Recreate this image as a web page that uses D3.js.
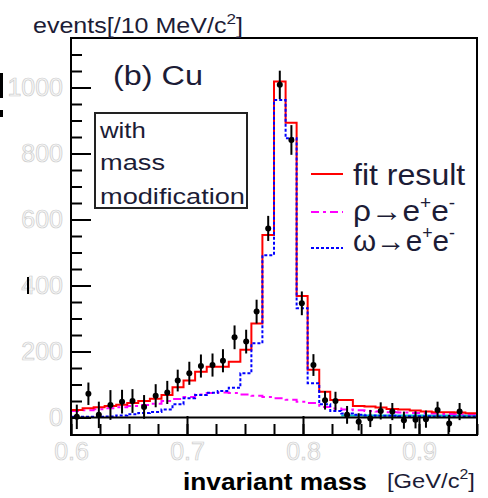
<!DOCTYPE html>
<html>
<head>
<meta charset="utf-8">
<script src="https://cdn.jsdelivr.net/npm/d3@7"></script>
<style>
  body { margin: 0; background: #fff; }
  svg { display: block; }
  text { font-family: "Liberation Sans", Arial, Helvetica, sans-serif; }
</style>
</head>
<body>
<svg id="chart" width="488" height="498"></svg>
<script>
// bin centres [GeV/c2], 36 bins over 0.6 - 0.95
var massBins = [0.605, 0.615, 0.624, 0.634, 0.644, 0.653, 0.663, 0.673, 0.683, 0.692,
  0.702, 0.712, 0.722, 0.731, 0.741, 0.751, 0.760, 0.770, 0.780, 0.790,
  0.799, 0.809, 0.819, 0.828, 0.838, 0.848, 0.858, 0.867, 0.877, 0.887,
  0.897, 0.906, 0.916, 0.926, 0.935, 0.945];

// measured points (null = no point drawn)
var dataCounts = [2, 72, 8, 38, 48, 50, 32, 66, 76, 112,
  134, 156, 159, 172, 243, 230, 321, 573, 1008, 841,
  346, 159, 52, 50, 8, -13, -3, 20, 18, -8,
  -7, -5, 23, -18, 18, null];
var dataErrors = [37, 34, 40, 45, 36, 36, 36, 35, 35, 33,
  35, 35, 35, 35, 36, 36, 36, 38, 43, 45,
  36, 33, 28, 28, 27, 26, 26, 26, 26, 26,
  26, 26, 25, 26, 26, 0];

// fit components
var fitTotal = [23, 28, 31, 35, 39, 44, 50, 57, 68, 92,
  112, 139, 154, 154, 169, 205, 285, 553, 1018, 893,
  368, 145, 78, 53, 53, 35, 33, 30, 26, 24,
  21, 18, 16, 16, 15, 13];
var rhoPart = [20, 22, 25, 28, 31, 35, 38, 42, 50, 56,
  62, 70, 74, 76, 74, 70, 66, 62, 58, 54,
  48, 44, 32, 27, 24, 22, 20, 18, 16, 15,
  14, 13, 12, 11, 10, 10];
var omegaPart = [2, 2, 2, 3, 6, 10, 14, 17, 24, 40,
  58, 68, 75, 80, 90, 134, 225, 492, 962, 846,
  331, 104, 40, 20, 12, 8, 6, 5, 5, 4,
  4, 4, 3, 3, 3, 3];
var otherPart = [null, null, null, null, null, null, null, null, null, null,
  null, null, null, null, null, null, null, null, null, null,
  null, null, null, null, 6, 6, 6, 6, 6, 6,
  6, 6, 6, 6, 6, 6];

var xTickLabels = [0.6, 0.7, 0.8, 0.9];
var yTickLabels = [0, 200, 400, 600, 800, 1000];

var svg = d3.select("#chart");
var plotLeft = 71, plotRight = 477, plotTop = 38, plotBottom = 435;

var x = d3.scaleLinear().domain([0.6, 0.95]).range([plotLeft, plotRight]);
var y = d3.scaleLinear().domain([-53, 1150]).range([plotBottom, plotTop]);

// bin edges: half way between neighbouring centres
var edges = [0.6];
for (var i = 1; i < massBins.length; i++) edges.push((massBins[i - 1] + massBins[i]) / 2);
edges.push(0.95);

function stepPath(values) {
  var pts = [];
  values.forEach(function (v, i) {
    if (v == null) return;
    pts.push([edges[i], v]);
    if (i == values.length - 1 || values[i + 1] == null) pts.push([edges[i + 1], v]);
  });
  return d3.line()
    .x(function (d) { return x(d[0]); })
    .y(function (d) { return y(d[1]); })
    .curve(d3.curveStepAfter)(pts);
}

// stretched text helper: draws text then scales it to the wanted width
function label(px, py, width, build) {
  var g = svg.append("g");
  var t = g.append("text");
  build(t);
  var w = t.node().getBBox().width;
  g.attr("transform", "translate(" + px + "," + py + ") scale(" + (width / w) + ",1)");
  return t;
}

// ---- axes ----
var tickStyle = function (g) {
  g.select(".domain").remove();
  g.selectAll(".tick line").attr("stroke", "#000").attr("stroke-width", 2);
};

svg.append("g")
  .attr("transform", "translate(0," + plotBottom + ")")
  .call(d3.axisBottom(x).tickValues(d3.range(0.6, 0.951, 0.025)).tickSize(-11).tickFormat(""))
  .call(tickStyle);

svg.append("g")
  .attr("transform", "translate(0," + plotBottom + ")")
  .call(d3.axisBottom(x).tickValues(xTickLabels).tickSize(-19).tickPadding(7)
    .tickFormat(d3.format(".1f")))
  .call(tickStyle);

svg.append("g")
  .attr("transform", "translate(" + plotLeft + ",0)")
  .call(d3.axisLeft(y).tickValues(d3.range(0, 1101, 50)).tickSize(-11).tickFormat(""))
  .call(tickStyle);

svg.append("g")
  .attr("transform", "translate(" + plotLeft + ",0)")
  .call(d3.axisLeft(y).tickValues(yTickLabels).tickSize(-20).tickPadding(8).tickFormat(d3.format("d")))
  .call(tickStyle);

// pale outlined tick labels, as in the scan
svg.selectAll(".tick text")
  .attr("font-family", "'Liberation Sans', Arial, sans-serif")
  .attr("font-size", 25)
  .attr("fill", "#f7f7f7")
  .attr("stroke", "#cdcdcd")
  .attr("stroke-width", 0.7);

// ---- histograms ----
svg.append("path").attr("d", stepPath(otherPart))
  .attr("fill", "none").attr("stroke", "#00c4c4").attr("stroke-width", 2);

svg.append("path").attr("d", stepPath(rhoPart))
  .attr("fill", "none").attr("stroke", "#ff00ff").attr("stroke-width", 2)
  .attr("stroke-dasharray", "8,4,3,4");

svg.append("path").attr("d", stepPath(fitTotal))
  .attr("fill", "none").attr("stroke", "#ff0000").attr("stroke-width", 2);

svg.append("path").attr("d", stepPath(omegaPart))
  .attr("fill", "none").attr("stroke", "#0000ff").attr("stroke-width", 2)
  .attr("stroke-dasharray", "3,2");

// zero line
svg.append("line")
  .attr("x1", plotLeft).attr("x2", plotRight)
  .attr("y1", y(0)).attr("y2", y(0))
  .attr("stroke", "#000").attr("stroke-width", 2);

// ---- data points ----
var pts = massBins.map(function (m, i) {
  return {m: m, c: dataCounts[i], e: dataErrors[i]};
}).filter(function (d) { return d.c != null; });

var pg = svg.append("g");
pg.selectAll("line.err").data(pts).enter().append("line")
  .attr("class", "err")
  .attr("x1", function (d) { return x(d.m); })
  .attr("x2", function (d) { return x(d.m); })
  .attr("y1", function (d) { return y(d.c - d.e); })
  .attr("y2", function (d) { return y(d.c + d.e); })
  .attr("stroke", "#000").attr("stroke-width", 2);
pg.selectAll("circle").data(pts).enter().append("circle")
  .attr("cx", function (d) { return x(d.m); })
  .attr("cy", function (d) { return y(d.c); })
  .attr("r", 3).attr("fill", "#000");

// frame
svg.append("rect")
  .attr("x", plotLeft).attr("y", plotTop)
  .attr("width", plotRight - plotLeft).attr("height", plotBottom - plotTop)
  .attr("fill", "none").attr("stroke", "#000").attr("stroke-width", 2);

// ---- texts ----
var ink = "#1c1c36";

label(33, 33, 210, function (t) {
  t.attr("font-size", 22).attr("fill", ink);
  t.append("tspan").text("events[/10 MeV/c");
  t.append("tspan").text("2").attr("font-size", 15).attr("dy", -9);
  t.append("tspan").text("]").attr("dy", 9);
});

label(113, 85, 90, function (t) {
  t.attr("font-size", 28).attr("fill", ink).text("(b) Cu");
});

svg.append("rect")
  .attr("x", 95).attr("y", 113).attr("width", 152).attr("height", 95)
  .attr("fill", "#fff").attr("stroke", "#222").attr("stroke-width", 2);
label(100, 138, 47, function (t) { t.attr("font-size", 22).attr("fill", ink).text("with"); });
label(100, 170, 65, function (t) { t.attr("font-size", 22).attr("fill", ink).text("mass"); });
label(100, 204, 145, function (t) { t.attr("font-size", 22).attr("fill", ink).text("modification"); });

// legend
var legend = [
  {y: 174, color: "#ff0000", dash: null},
  {y: 212, color: "#ff00ff", dash: "8,4,3,4"},
  {y: 248, color: "#0000ff", dash: "3,2"}
];
legend.forEach(function (d) {
  svg.append("line")
    .attr("x1", 311).attr("x2", 343).attr("y1", d.y).attr("y2", d.y)
    .attr("stroke", d.color).attr("stroke-width", 2)
    .attr("stroke-dasharray", d.dash);
});

label(353, 185, 113, function (t) {
  t.attr("font-size", 30).attr("fill", ink).text("fit result");
});

function decay(t, meson) {
  t.attr("font-size", 30).attr("fill", ink);
  t.append("tspan").text(meson + "\u2192e");
  t.append("tspan").text("+").attr("font-size", 18).attr("dy", -12);
  t.append("tspan").text("e").attr("dy", 12);
  t.append("tspan").text("-").attr("font-size", 18).attr("dy", -12);
}
label(353, 221, 102, function (t) { decay(t, "\u03c1"); });
label(353, 251, 102, function (t) { decay(t, "\u03c9"); });

// x title
label(183, 490, 184, function (t) {
  t.attr("font-size", 23).attr("font-weight", "bold").attr("fill", "#000").text("invariant mass");
});
label(387, 488, 88, function (t) {
  t.attr("font-size", 21).attr("fill", ink);
  t.append("tspan").text("[GeV/c");
  t.append("tspan").text("2").attr("font-size", 14).attr("dy", -9);
  t.append("tspan").text("]").attr("dy", 9);
});

// scan leftovers at the left edge
svg.append("rect").attr("x", 0).attr("y", 73).attr("width", 3).attr("height", 25).attr("fill", "#000");
svg.append("rect").attr("x", 0).attr("y", 110).attr("width", 3).attr("height", 7).attr("fill", "#000");
svg.append("rect").attr("x", 27).attr("y", 277).attr("width", 2).attr("height", 17).attr("fill", "#000");
</script>
</body>
</html>
